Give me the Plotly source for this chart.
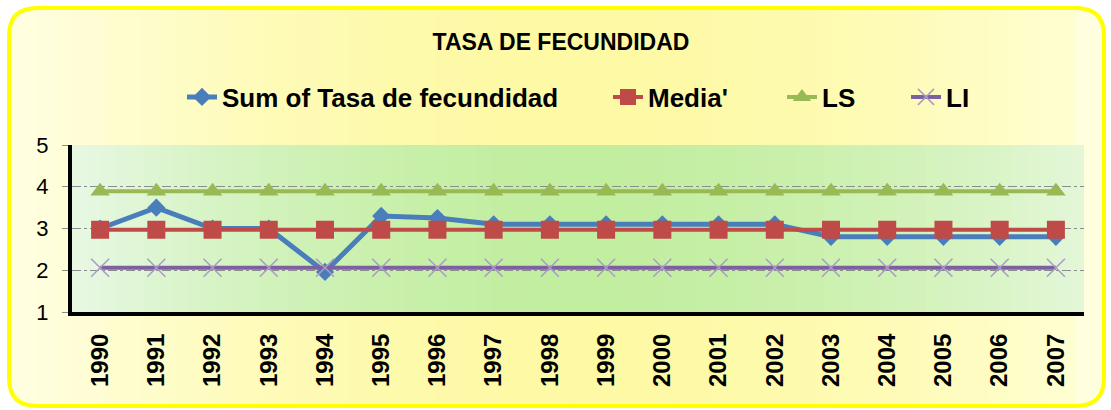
import plotly.graph_objects as go

# ---------------- data ----------------
years = [str(y) for y in range(1990, 2008)]
tasa = [3.0, 3.5, 3.0, 3.0, 1.96, 3.3, 3.25, 3.1, 3.1, 3.1, 3.1, 3.1, 3.1, 2.8, 2.8, 2.8, 2.8, 2.8]
media = [2.97] * 18
ls = [3.89] * 18
li = [2.06] * 18
y_ticks = [1, 2, 3, 4, 5]
title_text = "TASA DE FECUNDIDAD"
names = ["Sum of Tasa de fecundidad", "Media'", "LS", "LI"]

# ---------------- geometry ----------------
W, H = 1111, 410
L, R, T, B = 72, 1084, 145, 312          # plot area in px
PW, PH = R - L, B - T

def px(x):
    return (x - L) / PW

def py(y):
    return (B - y) / PH

def lerp(c1, c2, t):
    return tuple(int(round(a + (b - a) * t)) for a, b in zip(c1, c2))

def hexc(c):
    return "#%02x%02x%02x" % c

def grad(edge_l, center, edge_r, t, peak=0.5):
    if t <= peak:
        u = t / peak
        u = 1 - (1 - u) ** 1.8
        return lerp(edge_l, center, u)
    u = (1 - t) / (1 - peak)
    u = 1 - (1 - u) ** 1.8
    return lerp(edge_r, center, u)

shapes = []
# outer rounded panel
bx0, by0, bx1, by1, r = 9, 8, 1104, 406, 28
def rounded_path():
    pts = [
        f"M{px(bx0 + r)},{py(by0)}",
        f"L{px(bx1 - r)},{py(by0)}",
        f"Q{px(bx1)},{py(by0)} {px(bx1)},{py(by0 + r)}",
        f"L{px(bx1)},{py(by1 - r)}",
        f"Q{px(bx1)},{py(by1)} {px(bx1 - r)},{py(by1)}",
        f"L{px(bx0 + r)},{py(by1)}",
        f"Q{px(bx0)},{py(by1)} {px(bx0)},{py(by1 - r)}",
        f"L{px(bx0)},{py(by0 + r)}",
        f"Q{px(bx0)},{py(by0)} {px(bx0 + r)},{py(by0)}",
        "Z",
    ]
    return " ".join(pts)

yl_edge_l, yl_center, yl_edge_r = (255, 254, 222), (253, 249, 164), (255, 254, 210)
shapes.append(dict(type="path", path=rounded_path(), xref="paper", yref="paper",
                   fillcolor=hexc(yl_edge_l), line=dict(width=0), layer="below"))
n = 60
sx0, sx1 = bx0 + r, bx1 - r
for i in range(n):
    a = sx0 + (sx1 - sx0) * i / n
    b = sx0 + (sx1 - sx0) * (i + 1) / n + 0.8
    t = (i + 0.5) / n
    c = grad(yl_edge_l, yl_center, yl_edge_r, t, 0.52)
    shapes.append(dict(type="rect", xref="paper", yref="paper",
                       x0=px(a), x1=px(min(b, sx1)), y0=py(by1), y1=py(by0),
                       fillcolor=hexc(c), line=dict(width=0), layer="below"))

# plot-area green gradient
gl, gc, gr = (232, 248, 228), (194, 238, 160), (228, 247, 216)
n2 = 70
for i in range(n2):
    a = i / n2
    b = (i + 1) / n2 + 0.002
    t = (i + 0.5) / n2
    c = grad(gl, gc, gr, t, 0.5)
    shapes.append(dict(type="rect", xref="paper", yref="paper",
                       x0=a, x1=min(b, 1), y0=0, y1=1,
                       fillcolor=hexc(c), line=dict(width=0), layer="below"))

# border outline
shapes.append(dict(type="path", path=rounded_path(), xref="paper", yref="paper",
                   fillcolor="rgba(0,0,0,0)", line=dict(color="#ffff00", width=4),
                   layer="below"))

FONT = "Liberation Sans, Arial, sans-serif"

fig = go.Figure()
fig.add_trace(go.Scatter(
    x=years, y=tasa, name=names[0], mode="lines+markers", legend="legend",
    line=dict(color="#4a7ebb", width=5),
    marker=dict(symbol="diamond", size=14, color="#4a7ebb")))
fig.add_trace(go.Scatter(
    x=years, y=media, name=names[1], mode="lines+markers", legend="legend2",
    line=dict(color="#be4b48", width=4),
    marker=dict(symbol="square", size=18, color="#be4b48")))
fig.add_trace(go.Scatter(
    x=years, y=ls, name=names[2], mode="lines+markers", legend="legend3",
    line=dict(color="#98b954", width=4),
    marker=dict(symbol="triangle-up", size=17, color="#98b954")))
fig.add_trace(go.Scatter(
    x=years, y=li, name=names[3], mode="lines+markers", legend="legend4",
    line=dict(color="#7d60a0", width=4),
    marker=dict(symbol="x-thin", size=18, color="#a99bc6",
                line=dict(width=1.5, color="#a99bc6"))))

leg_common = dict(orientation="h", bgcolor="rgba(0,0,0,0)", borderwidth=0,
                  font=dict(family=FONT, size=26, color="black", weight="bold"),
                  yanchor="middle", y=py(97), xanchor="left")
text_starts = [222, 648, 822, 946]
OFF = 40

fig.update_layout(
    width=W, height=H,
    showlegend=True,
    margin=dict(l=L, r=W - R, t=T, b=H - B, pad=0),
    paper_bgcolor="white",
    plot_bgcolor="rgba(0,0,0,0)",
    shapes=shapes,
    title=dict(text=title_text, xref="container", yref="container",
               x=561 / W, xanchor="center", y=1 - 42 / H, yanchor="middle",
               font=dict(family=FONT, size=23, color="black", weight="bold")),
    legend=dict(x=px(text_starts[0] - OFF), **leg_common),
    legend2=dict(x=px(text_starts[1] - OFF), **leg_common),
    legend3=dict(x=px(text_starts[2] - OFF), **leg_common),
    legend4=dict(x=px(text_starts[3] - OFF), **leg_common),
    xaxis=dict(type="category", range=[-0.5, len(years) - 0.5],
               showgrid=False, showline=True, linecolor="black", linewidth=4,
               ticks="", tickangle=-90, ticklabelstandoff=8,
               tickfont=dict(family=FONT, size=24, color="black", weight="bold"),
               zeroline=False, fixedrange=True),
    yaxis=dict(range=[1, 5], tickvals=y_ticks, showgrid=True,
               gridcolor="#8c8c8c", griddash="dashdot", gridwidth=1,
               showline=True, linecolor="black", linewidth=4,
               ticks="outside", ticklen=6, tickcolor="#8c8c8c",
               ticklabelstandoff=9,
               tickfont=dict(family=FONT, size=22, color="black"),
               zeroline=False, fixedrange=True),
)

fig.write_html("out.html", config={"displayModeBar": False},
               post_script="document.body.style.margin='0';")
